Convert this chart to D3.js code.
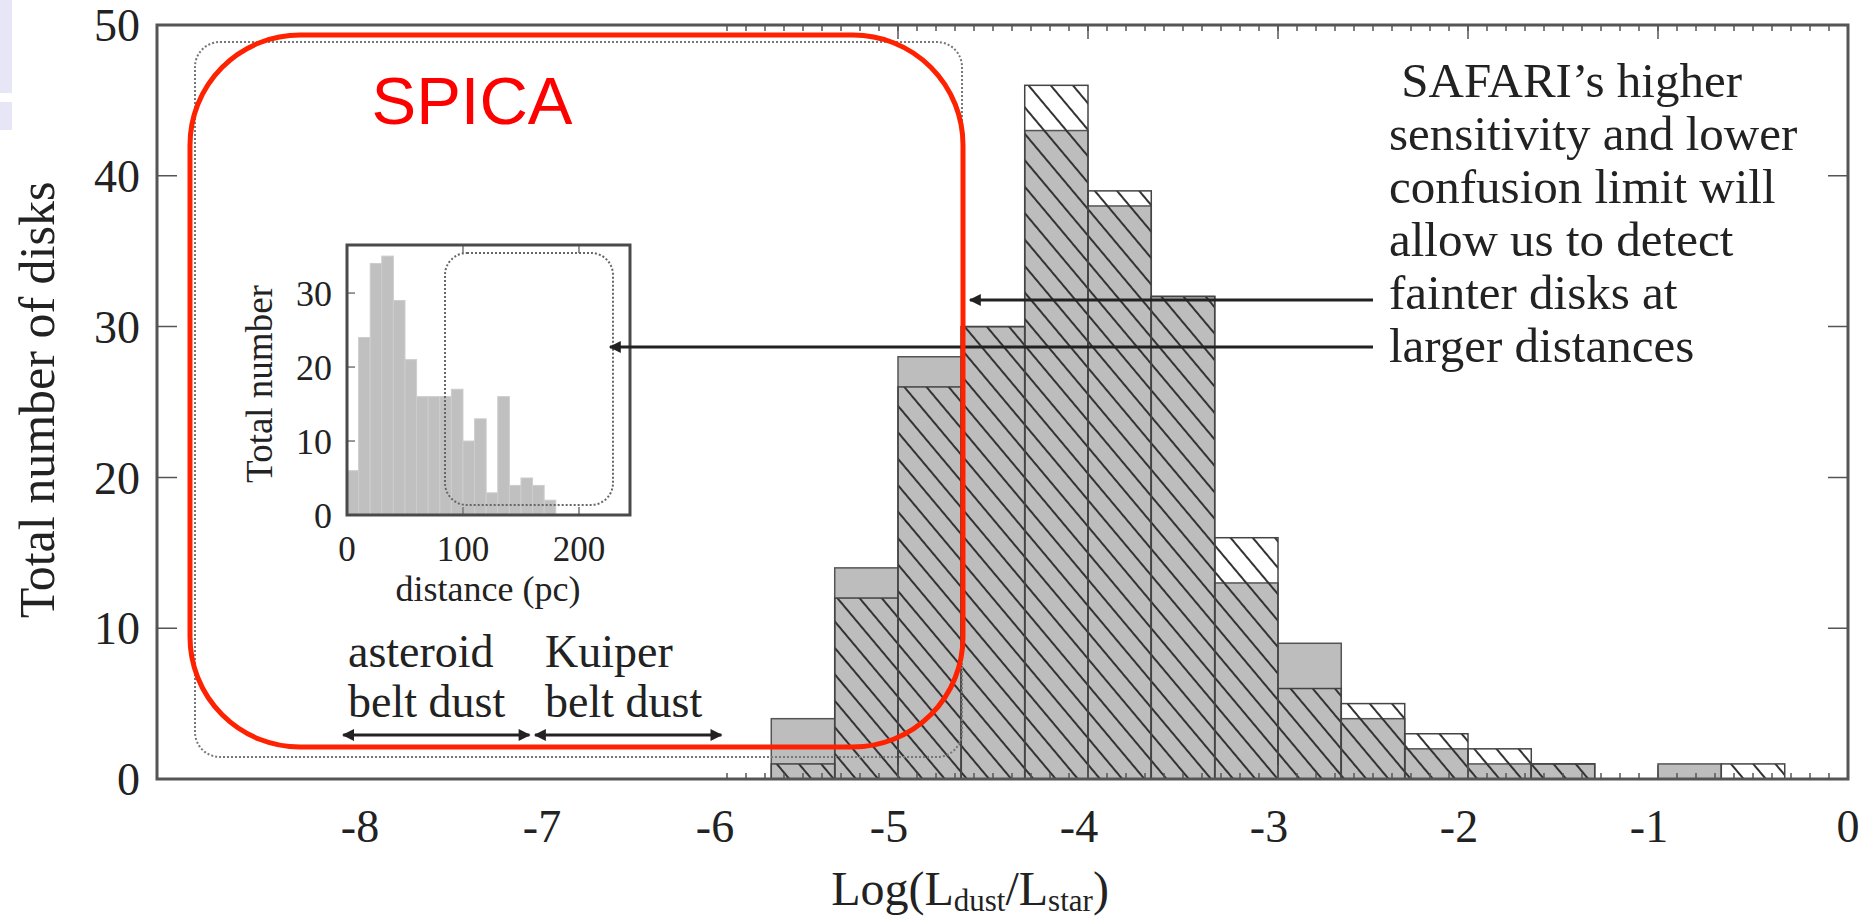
<!DOCTYPE html>
<html>
<head>
<meta charset="utf-8">
<script src="https://cdnjs.cloudflare.com/ajax/libs/d3/7.8.5/d3.min.js"></script>
<style>
  body { margin: 0; background: #fff; }
  svg { display: block; }
  .serif { font-family: "Liberation Serif", "Times New Roman", serif; fill: #222; }
</style>
</head>
<body>
<script>
// histogram of Log(Ldust/Lstar), bins of 1/3 dex
var binEdges = [-5.667, -5.333, -5, -4.667, -4.333, -4, -3.667, -3.333, -3,
                -2.667, -2.333, -2, -1.667, -1.333, -1, -0.667, -0.333];
var grayCounts  = [4, 14, 28, 30, 43, 38, 32, 13, 9, 4, 2, 1, 1, 0, 1, 0];
var hatchCounts = [1, 12, 26, 30, 46, 39, 32, 16, 6, 5, 3, 2, 1, 0, 0, 1];

// inset: distance histogram, 10 pc bins
var distEdges  = [0, 10, 20, 30, 40, 50, 60, 70, 80, 90, 100, 110, 120, 130, 140, 150, 160, 170, 180];
var distCounts = [6, 24, 34, 35, 29, 21, 16, 16, 16, 17, 10, 13, 3, 16, 4, 5, 4, 2];

var xTicks = [-8, -7, -6, -5, -4, -3, -2, -1, 0];
var xPlotTicks = [-5, -4, -3, -2, -1, 0];   // ticks of the original plotted range
var yTicks = [0, 10, 20, 30, 40, 50];
var insetXTicks = [0, 100, 200];
var insetYTicks = [0, 10, 20, 30];

var noteLines = [" SAFARI\u2019s higher", "sensitivity and lower", "confusion limit will",
                 "allow us to detect", "fainter disks at", "larger distances"];

window.load = setChart();

function setChart(){
	var width = 1876, height = 921;

	var svg = d3.select("body").append("svg")
		.attr("width", width)
		.attr("height", height);

	var defs = svg.append("defs");

	// diagonal "\" hatch, shared in user space so lines run across bars
	var hatch = defs.append("pattern")
		.attr("id", "hatch")
		.attr("patternUnits", "userSpaceOnUse")
		.attr("width", 17)
		.attr("height", 17)
		.attr("patternTransform", "rotate(-40)");
	hatch.append("line")
		.attr("x1", 2).attr("y1", 0)
		.attr("x2", 2).attr("y2", 17)
		.attr("stroke", "#333")
		.attr("stroke-width", 2);

	var arrowHead = defs.append("marker")
		.attr("id", "head")
		.attr("viewBox", "0 0 10 10")
		.attr("refX", 9).attr("refY", 5)
		.attr("markerWidth", 5).attr("markerHeight", 4)
		.attr("markerUnits", "strokeWidth")
		.attr("orient", "auto-start-reverse");
	arrowHead.append("path")
		.attr("d", "M0,0 L10,5 L0,10 Z")
		.attr("fill", "#222");

	// left edge artefacts from the slide
	svg.append("rect").attr("x", 0).attr("y", 0).attr("width", 12).attr("height", 93).attr("fill", "#e6e6f7");
	svg.append("rect").attr("x", 0).attr("y", 102).attr("width", 12).attr("height", 28).attr("fill", "#e6e6f7");

	var x = d3.scaleLinear().domain([-8.9, 0]).range([157, 1848]);
	var y = d3.scaleLinear().domain([0, 50]).range([779, 25]);
	// the -8..-6 labels were placed by hand on the widened frame, so they do not follow x
	var labelX = d3.scaleLinear().domain([-8, -7, -6, -5, 0]).range([369, 551, 724, x(-5), x(0)]);

	var bins = grayCounts.map(function(d, i){
		return {x0: binEdges[i], x1: binEdges[i+1], gray: d, hatch: hatchCounts[i]};
	});

	// gray histogram
	svg.selectAll(".grayBar")
		.data(bins.filter(function(d){ return d.gray > 0; }))
		.enter().append("rect")
		.attr("class", "grayBar")
		.attr("x", function(d){ return x(d.x0); })
		.attr("width", function(d){ return x(d.x1) - x(d.x0); })
		.attr("y", function(d){ return y(d.gray); })
		.attr("height", function(d){ return y(0) - y(d.gray); })
		.attr("fill", "#bdbdbd")
		.attr("stroke", "#555")
		.attr("stroke-width", 1.5);

	// hatched histogram on top
	svg.selectAll(".hatchBar")
		.data(bins.filter(function(d){ return d.hatch > 0; }))
		.enter().append("rect")
		.attr("class", "hatchBar")
		.attr("x", function(d){ return x(d.x0); })
		.attr("width", function(d){ return x(d.x1) - x(d.x0); })
		.attr("y", function(d){ return y(d.hatch); })
		.attr("height", function(d){ return y(0) - y(d.hatch); })
		.attr("fill", "url(#hatch)")
		.attr("stroke", "#444")
		.attr("stroke-width", 1.5);

	// frame and ticks
	var xMinor = d3.range(-59, 1).map(function(d){ return d / 10; });
	var frame = svg.append("g");
	frame.append("rect")
		.attr("x", x(-8.9)).attr("y", y(50))
		.attr("width", x(0) - x(-8.9)).attr("height", y(0) - y(50))
		.attr("fill", "none").attr("stroke", "#555").attr("stroke-width", 3);

	frame.selectAll(".xMinor").data(xMinor).enter().append("path")
		.attr("d", function(d){
			return "M" + x(d) + "," + y(0) + "v-6M" + x(d) + "," + y(50) + "v6";
		})
		.attr("stroke", "#555").attr("stroke-width", 1.5);
	frame.selectAll(".xMajor").data(xPlotTicks).enter().append("path")
		.attr("d", function(d){
			return "M" + x(d) + "," + y(0) + "v-14M" + x(d) + "," + y(50) + "v14";
		})
		.attr("stroke", "#555").attr("stroke-width", 1.5);
	frame.selectAll(".yMajor").data(yTicks).enter().append("path")
		.attr("d", function(d){
			return "M" + x(-8.9) + "," + y(d) + "h20M" + x(0) + "," + y(d) + "h-20";
		})
		.attr("stroke", "#555").attr("stroke-width", 1.5);

	svg.selectAll(".xLabel").data(xTicks).enter().append("text")
		.attr("class", "serif")
		.attr("x", function(d){ return labelX(d); })
		.attr("dx", function(d){ return d < 0 ? -9 : 0; })
		.attr("y", 842)
		.attr("text-anchor", "middle")
		.style("font-size", "46px")
		.text(function(d){ return d; });

	svg.selectAll(".yLabel").data(yTicks).enter().append("text")
		.attr("class", "serif")
		.attr("x", 140)
		.attr("y", function(d){ return y(d); })
		.attr("dy", "0.35em")
		.attr("text-anchor", "end")
		.style("font-size", "46px")
		.text(function(d){ return d; });

	// axis titles
	var xTitle = svg.append("text")
		.attr("class", "serif")
		.attr("x", 970).attr("y", 905)
		.attr("text-anchor", "middle")
		.style("font-size", "48px");
	xTitle.append("tspan").text("Log(L");
	xTitle.append("tspan").attr("dy", 6).style("font-size", "31px").text("dust");
	xTitle.append("tspan").attr("dy", -6).text("/L");
	xTitle.append("tspan").attr("dy", 6).style("font-size", "31px").text("star");
	xTitle.append("tspan").attr("dy", -6).text(")");

	svg.append("text")
		.attr("class", "serif")
		.attr("transform", "translate(54,400) rotate(-90)")
		.attr("text-anchor", "middle")
		.style("font-size", "50px")
		.text("Total number of disks");

	// dotted region of current detections
	svg.append("rect")
		.attr("x", 195).attr("y", 42)
		.attr("width", 962 - 195).attr("height", 757 - 42)
		.attr("rx", 25).attr("ry", 25)
		.attr("fill", "none")
		.attr("stroke", "#777")
		.attr("stroke-width", 2)
		.attr("stroke-dasharray", "2,2");

	// inset histogram
	var ix = d3.scaleLinear().domain([0, 244]).range([347, 630]);
	var iy = d3.scaleLinear().domain([0, 36.5]).range([515, 245]);
	var inset = svg.append("g");

	inset.append("rect")
		.attr("x", ix(0)).attr("y", iy(36.5))
		.attr("width", ix(244) - ix(0)).attr("height", iy(0) - iy(36.5))
		.attr("fill", "#fff");

	inset.selectAll(".distBar")
		.data(distCounts)
		.enter().append("rect")
		.attr("class", "distBar")
		.attr("x", function(d, i){ return ix(distEdges[i]); })
		.attr("width", function(d, i){ return ix(distEdges[i+1]) - ix(distEdges[i]); })
		.attr("y", function(d){ return iy(d); })
		.attr("height", function(d){ return iy(0) - iy(d); })
		.attr("fill", "#c0c0c0")
		.attr("stroke", "#cdcdcd")
		.attr("stroke-width", 1);

	inset.selectAll(".iyTick").data(insetYTicks).enter().append("path")
		.attr("d", function(d){ return "M" + ix(0) + "," + iy(d) + "h8"; })
		.attr("stroke", "#777").attr("stroke-width", 1.5);
	inset.selectAll(".ixTick").data(insetXTicks).enter().append("path")
		.attr("d", function(d){ return "M" + ix(d) + "," + iy(0) + "v-8M" + ix(d) + "," + iy(36.5) + "v8"; })
		.attr("stroke", "#777").attr("stroke-width", 1.5);

	inset.append("rect")
		.attr("x", ix(0)).attr("y", iy(36.5))
		.attr("width", ix(244) - ix(0)).attr("height", iy(0) - iy(36.5))
		.attr("fill", "none")
		.attr("stroke", "#4a4a4a")
		.attr("stroke-width", 3);

	inset.append("rect")
		.attr("x", 445).attr("y", 253)
		.attr("width", 613 - 445).attr("height", 505 - 253)
		.attr("rx", 22).attr("ry", 22)
		.attr("fill", "none")
		.attr("stroke", "#666")
		.attr("stroke-width", 2)
		.attr("stroke-dasharray", "2,2");

	inset.selectAll(".ixLabel").data(insetXTicks).enter().append("text")
		.attr("class", "serif")
		.attr("x", function(d){ return ix(d); })
		.attr("y", 561)
		.attr("text-anchor", "middle")
		.style("font-size", "35px")
		.text(function(d){ return d; });
	inset.selectAll(".iyLabel").data(insetYTicks).enter().append("text")
		.attr("class", "serif")
		.attr("x", 332)
		.attr("y", function(d){ return iy(d); })
		.attr("dy", "0.35em")
		.attr("text-anchor", "end")
		.style("font-size", "36px")
		.text(function(d){ return d; });
	inset.append("text")
		.attr("class", "serif")
		.attr("x", 488).attr("y", 601)
		.attr("text-anchor", "middle")
		.style("font-size", "36px")
		.text("distance (pc)");
	inset.append("text")
		.attr("class", "serif")
		.attr("transform", "translate(272,384) rotate(-90)")
		.attr("text-anchor", "middle")
		.style("font-size", "37px")
		.text("Total number");

	// belt annotations
	var belts = [
		{lo: -7.92, hi: -6.94, top: "asteroid", bottom: "belt dust", tx: 348},
		{lo: -6.91, hi: -5.93, top: "Kuiper", bottom: "belt dust", tx: 545}
	];
	svg.selectAll(".belt").data(belts).enter().append("line")
		.attr("x1", function(d){ return x(d.lo); })
		.attr("x2", function(d){ return x(d.hi); })
		.attr("y1", 735).attr("y2", 735)
		.attr("stroke", "#222").attr("stroke-width", 3)
		.attr("marker-start", "url(#head)")
		.attr("marker-end", "url(#head)");
	svg.selectAll(".beltTop").data(belts).enter().append("text")
		.attr("class", "serif")
		.attr("x", function(d){ return d.tx; }).attr("y", 667)
		.style("font-size", "46px")
		.text(function(d){ return d.top; });
	svg.selectAll(".beltBottom").data(belts).enter().append("text")
		.attr("class", "serif")
		.attr("x", function(d){ return d.tx; }).attr("y", 717)
		.style("font-size", "46px")
		.text(function(d){ return d.bottom; });

	// SAFARI note and its two pointers
	svg.selectAll(".note").data(noteLines).enter().append("text")
		.attr("class", "serif")
		.attr("x", 1389)
		.attr("y", function(d, i){ return 97 + i * 53; })
		.style("font-size", "49px")
		.style("white-space", "pre")
		.text(function(d){ return d; });

	var pointers = [{y: 300, tip: 970}, {y: 347, tip: 610}];
	svg.selectAll(".pointer").data(pointers).enter().append("line")
		.attr("x1", 1373).attr("x2", function(d){ return d.tip; })
		.attr("y1", function(d){ return d.y; }).attr("y2", function(d){ return d.y; })
		.attr("stroke", "#222").attr("stroke-width", 3)
		.attr("marker-end", "url(#head)");

	// SPICA box
	svg.append("rect")
		.attr("x", 190).attr("y", 35)
		.attr("width", 963 - 190).attr("height", 747 - 35)
		.attr("rx", 110).attr("ry", 110)
		.attr("fill", "none")
		.attr("stroke", "#ff2200")
		.attr("stroke-width", 5);
	svg.append("text")
		.attr("x", 472).attr("y", 124)
		.attr("text-anchor", "middle")
		.style("font-family", "'Liberation Sans', Arial, sans-serif")
		.style("font-size", "67px")
		.style("fill", "#ff0000")
		.text("SPICA");
}
</script>
</body>
</html>
